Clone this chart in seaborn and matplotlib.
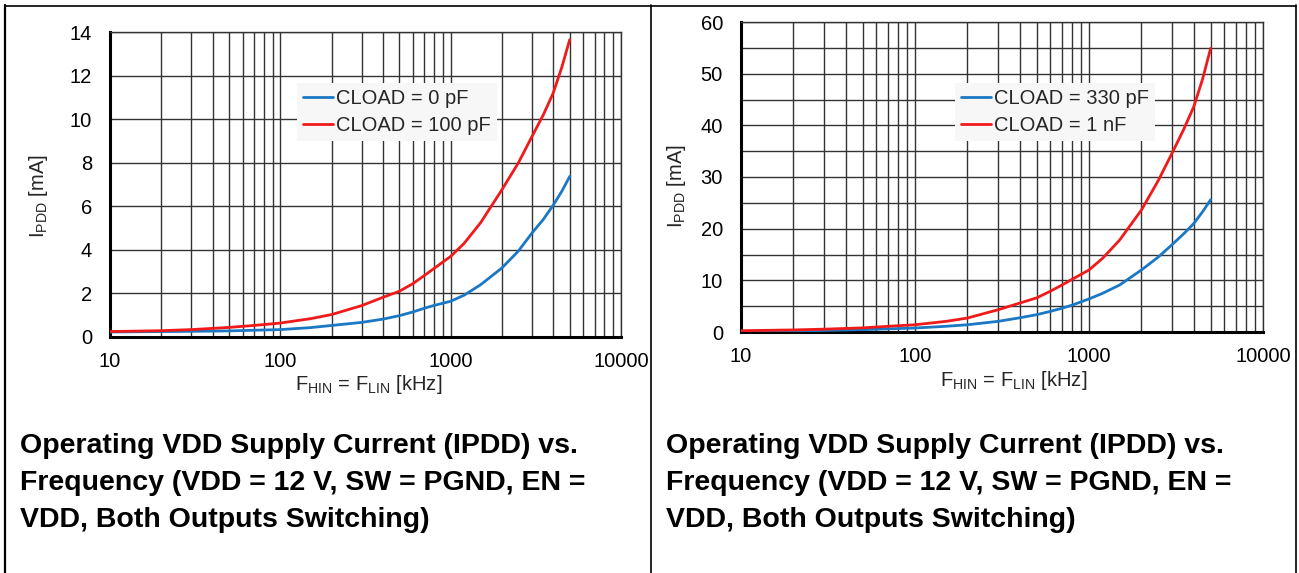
import numpy as np
import pandas as pd
import matplotlib
matplotlib.use("Agg")
import matplotlib.pyplot as plt
from matplotlib.lines import Line2D
from matplotlib.ticker import MultipleLocator, LogLocator, NullFormatter
import seaborn as sns

# frequency points in kHz
freq = [10, 20, 30, 50, 70, 100, 150, 200, 300, 400, 500, 600, 700, 800,
        1000, 1200, 1500, 2000, 2500, 3000, 3500, 4000, 4500, 5000]

# left panel: I_PDD in mA
ipdd_0pf   = [0.23, 0.25, 0.26, 0.28, 0.31, 0.34, 0.43, 0.53, 0.67, 0.82, 0.98, 1.15,
              1.32, 1.45, 1.64, 1.92, 2.4, 3.17, 3.95, 4.77, 5.4, 6.05, 6.7, 7.37]
ipdd_100pf = [0.25, 0.29, 0.34, 0.44, 0.53, 0.64, 0.84, 1.03, 1.44, 1.82, 2.1, 2.45,
              2.82, 3.15, 3.7, 4.3, 5.25, 6.76, 8.0, 9.2, 10.2, 11.2, 12.4, 13.65]

# right panel: I_PDD in mA
ipdd_330pf = [0.13, 0.2, 0.3, 0.45, 0.6, 0.77, 1.1, 1.4, 2.06, 2.75, 3.35, 4.0,
              4.6, 5.2, 6.4, 7.5, 9.1, 12.0, 14.5, 16.9, 19.0, 21.0, 23.3, 25.6]
ipdd_1nf   = [0.25, 0.4, 0.55, 0.8, 1.1, 1.4, 2.05, 2.7, 4.3, 5.6, 6.6, 7.9,
              9.1, 10.2, 12.0, 14.3, 17.8, 23.6, 29.3, 34.6, 39.2, 43.6, 49.0, 54.9]

left_labels  = ["CLOAD = 0 pF", "CLOAD = 100 pF"]
right_labels = ["CLOAD = 330 pF", "CLOAD = 1 nF"]
caption = ["Operating VDD Supply Current (IPDD) vs.",
           "Frequency (VDD = 12 V, SW = PGND, EN =",
           "VDD, Both Outputs Switching)"]

blue = "#1a78c4"
red = "#f01a1a"

sns.set_theme(style="white")
plt.rcParams["font.family"] = ["Liberation Sans", "DejaVu Sans"]
plt.rcParams["mathtext.fontset"] = "custom"
plt.rcParams["mathtext.rm"] = "Liberation Sans"

W, H = 1299, 573
fig = plt.figure(figsize=(W / 100, H / 100), dpi=100)
FS = 14.5


def px_axes(x0, y0, x1, y1):
    return fig.add_axes([x0 / W, 1 - y1 / H, (x1 - x0) / W, (y1 - y0) / H])


def panel(ax, a, b, labels, ymax, ystep, ygrid, leg_xy, ylab_xy, xlab_xy):
    df = pd.DataFrame({
        "freq": freq + freq,
        "ipdd": a + b,
        "load": [labels[0]] * len(freq) + [labels[1]] * len(freq),
    })
    sns.lineplot(data=df, x="freq", y="ipdd", hue="load", palette=[blue, red],
                 linewidth=2.0, ax=ax, zorder=3)
    ax.set_xscale("log")
    ax.set_xlim(10, 10000)
    ax.set_ylim(0, ymax)
    ax.yaxis.set_major_locator(MultipleLocator(ystep))
    ax.yaxis.set_minor_locator(MultipleLocator(ygrid))
    ax.xaxis.set_major_locator(LogLocator(base=10))
    ax.xaxis.set_minor_locator(LogLocator(base=10, subs=np.arange(2, 10)))
    ax.xaxis.set_minor_formatter(NullFormatter())
    ax.set_xticks([10, 100, 1000, 10000])
    ax.set_xticklabels(["10", "100", "1000", "10000"])
    ax.grid(True, which="both", color="#333333", linewidth=1.0)
    ax.set_axisbelow(True)
    ax.tick_params(which="both", length=0, labelsize=FS, colors="black")
    ax.tick_params(axis="y", pad=13)
    ax.tick_params(axis="x", pad=11)
    for s in ["left", "bottom"]:
        ax.spines[s].set_color("black")
        ax.spines[s].set_linewidth(2.2)
    for s in ["top", "right"]:
        ax.spines[s].set_color("#333333")
        ax.spines[s].set_linewidth(1.0)

    ax.set_ylabel(r"I$_{\mathregular{PDD}}$ [mA]", fontsize=FS)
    ax.set_xlabel(r"F$_{\mathregular{HIN}}$ = F$_{\mathregular{LIN}}$ [kHz]", fontsize=FS)
    ax.yaxis.set_label_coords(*ylab_xy)
    ax.xaxis.set_label_coords(*xlab_xy)
    ax.yaxis.label.set_va("center")
    ax.xaxis.label.set_va("center")

    h, l = ax.get_legend_handles_labels()
    ax.legend(h, l, loc="upper left", bbox_to_anchor=leg_xy, fontsize=FS,
              frameon=True, facecolor="#f7f7f7", edgecolor="none", framealpha=1,
              fancybox=False, handlelength=1.5, handletextpad=0.15,
              borderpad=0.3, labelspacing=0.4, borderaxespad=0)


axL = px_axes(110, 32, 621, 337)
panel(axL, ipdd_0pf, ipdd_100pf, left_labels, 14, 2, 2,
      (0.366, 0.833), (-0.139, 0.462), (0.507, -0.157))

axR = px_axes(741, 22, 1263, 332)
panel(axR, ipdd_330pf, ipdd_1nf, right_labels, 60, 10, 5,
      (0.41, 0.803), (-0.123, 0.471), (0.523, -0.155))


# table frame
def fline(x0, y0, x1, y1, lw):
    fig.add_artist(Line2D([x0 / W, x1 / W], [1 - y0 / H, 1 - y1 / H],
                          color="black", linewidth=lw, transform=fig.transFigure))


fline(5, 5.5, 1296, 5.5, 1.2)
fline(5.5, 5, 5.5, 573, 1.6)
fline(651, 5, 651, 573, 1.2)
fline(1296, 5, 1296, 573, 1.2)

for x0 in (20, 666):
    for i, line in enumerate(caption):
        fig.text(x0 / W, 1 - (453 + 37 * i) / H, line, fontsize=20.5,
                 fontweight="bold", ha="left", va="baseline", color="black")

fig.savefig("out.png", dpi=100)
